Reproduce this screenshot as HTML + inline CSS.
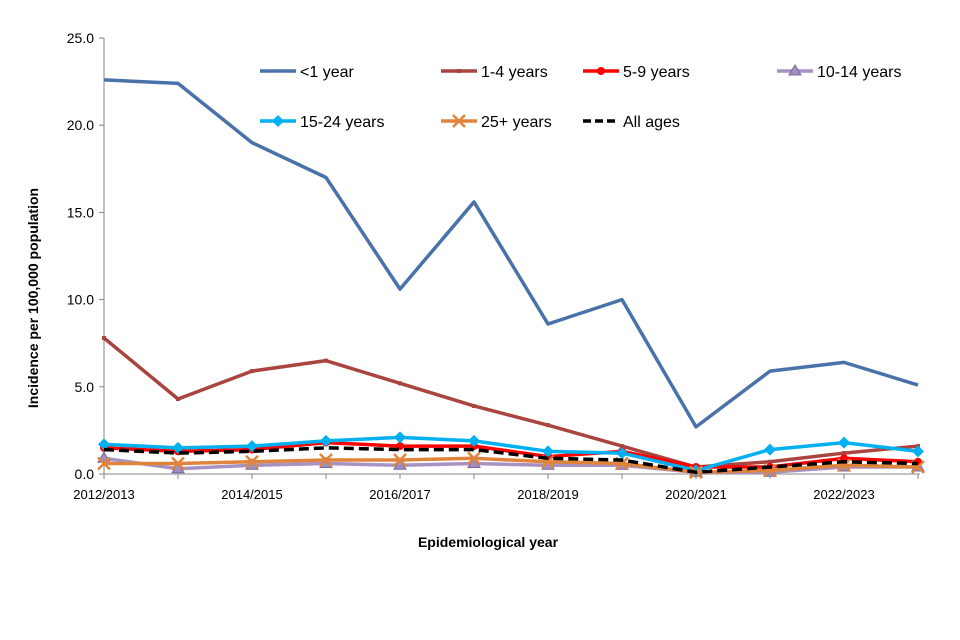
<!DOCTYPE html>
<html><head><meta charset="utf-8"><style>
body{margin:0;background:#fff}
svg{display:block;font-family:"Liberation Sans",Arial,sans-serif}
</style></head><body>
<svg id="chart" width="960" height="640"></svg>
<script>
const categories=["2012/2013","2013/2014","2014/2015","2015/2016","2016/2017","2017/2018","2018/2019","2019/2020","2020/2021","2021/2022","2022/2023","2023/2024"];
const under1=[22.6,22.4,19.0,17.0,10.6,15.6,8.6,10.0,2.7,5.9,6.4,5.1];
const age1to4=[7.8,4.3,5.9,6.5,5.2,3.9,2.8,1.6,0.4,0.7,1.2,1.6];
const age5to9=[1.5,1.3,1.4,1.8,1.6,1.6,1.0,1.3,0.4,0.4,0.9,0.7];
const age10to14=[0.9,0.3,0.5,0.6,0.5,0.6,0.5,0.5,0.1,0.1,0.4,0.4];
const age15to24=[1.7,1.5,1.6,1.9,2.1,1.9,1.3,1.2,0.2,1.4,1.8,1.3];
const age25plus=[0.6,0.6,0.7,0.8,0.8,0.9,0.7,0.6,0.1,0.2,0.5,0.4];
const allAges=[1.4,1.2,1.3,1.5,1.4,1.4,0.9,0.8,0.1,0.4,0.7,0.6];
const yTicks=[0,5,10,15,20,25];
const NS="http://www.w3.org/2000/svg";
const svg=document.getElementById('chart');
const x0=104,dx=74,y0=474,yTop=38,yMax=25;
const X=i=>x0+i*dx;
const Y=v=>y0-v/yMax*(y0-yTop);
function mk(t,a,p){const e=document.createElementNS(NS,t);for(const k in a)e.setAttribute(k,a[k]);(p||svg).appendChild(e);return e;}
// axes
let ax=mk('line',{x1:x0,y1:yTop,x2:x0,y2:y0,stroke:'#868686'});


let bx=mk('line',{x1:x0,y1:y0,x2:X(11)+2,y2:y0,stroke:'#868686'});


yTicks.forEach(v=>{
  mk('line',{x1:x0-5,y1:Y(v),x2:x0,y2:Y(v),stroke:'#868686'});
  const t=mk('text',{x:x0-10,y:Y(v)+5,'text-anchor':'end','font-size':14});
  t.textContent=v.toFixed(1);
  
  
});
categories.forEach((c,i)=>{
  mk('line',{x1:X(i),y1:y0,x2:X(i),y2:y0+5,stroke:'#868686'});
  if(i%2===0){const t=mk('text',{x:X(i),y:y0+25,'text-anchor':'middle','font-size':13});
  t.textContent=c;
  
  }
});
let yt=mk('text',{x:0,y:0,'font-size':14,'font-weight':'bold','text-anchor':'middle',transform:'translate(38,298) rotate(-90)'});
yt.textContent='Incidence per 100,000 population';


let xt=mk('text',{x:488,y:547,'font-size':14,'font-weight':'bold','text-anchor':'middle'});
xt.textContent='Epidemiological year';


function marker(g,type,cx,cy,col){
  if(type==='sq')mk('rect',{x:cx-2,y:cy-2,width:4,height:4,fill:col},g);
  else if(type==='circ')mk('circle',{cx,cy,r:4,fill:col},g);
  else if(type==='tri')mk('polygon',{points:`${cx},${cy-6} ${cx-6},${cy+4} ${cx+6},${cy+4}`,fill:'#9f8fbf',stroke:'#8064a2'},g);
  else if(type==='dia')mk('polygon',{points:`${cx},${cy-6} ${cx+6},${cy} ${cx},${cy+6} ${cx-6},${cy}`,fill:col},g);
  else if(type==='x'){mk('path',{d:`M${cx-6},${cy-6}L${cx+6},${cy+6}M${cx-6},${cy+6}L${cx+6},${cy-6}`,stroke:col,'stroke-width':2.5},g);}
}
const series=[
 {name:'<1 year',data:under1,col:'#4a72aa',m:null,key:'under-1'},
 {name:'1-4 years',data:age1to4,col:'#a9443f',m:'sq',key:'1-4'},
 {name:'5-9 years',data:age5to9,col:'#ff0000',m:'circ',key:'5-9'},
 {name:'10-14 years',data:age10to14,col:'#a692c4',m:'tri',key:'10-14'},
 {name:'15-24 years',data:age15to24,col:'#00b0f0',m:'dia',key:'15-24'},
 {name:'25+ years',data:age25plus,col:'#e0843c',m:'x',key:'25-plus'},
 {name:'All ages',data:allAges,col:'#000',m:null,dash:true,key:'all-ages'}
];
const drawOrder=[3,1,0,2,4,5,6];
drawOrder.forEach(si=>{const s=series[si];
  const g=mk('g',{});
  
  
  const d=s.data.map((v,i)=>(i?'L':'M')+X(i)+','+Y(v)).join('');
  const a={d,fill:'none',stroke:s.col,'stroke-width':s.dash?3.5:3.5,'stroke-linejoin':'round'};
  if(s.dash)a['stroke-dasharray']='10,5';
  mk('path',a,g);
  if(s.m)s.data.forEach((v,i)=>marker(g,s.m,X(i),Y(v),s.col));
});
const legPos=[[260,71],[441,71],[583,71],[777,71],[260,121],[441,121],[583,121]];
series.forEach((s,i)=>{const [lx,ly]=legPos[i];
  const g=mk('g',{});
  
  
  const a={x1:lx,y1:ly,x2:lx+36,y2:ly,stroke:s.col,'stroke-width':3.5};
  if(s.dash)a['stroke-dasharray']='8,4';
  mk('line',a,g);
  if(s.m)marker(g,s.m,lx+18,ly,s.col);
  const t=mk('text',{x:lx+40,y:ly+6,'font-size':16},g);t.textContent=s.name;
});
</script>
</body></html>
